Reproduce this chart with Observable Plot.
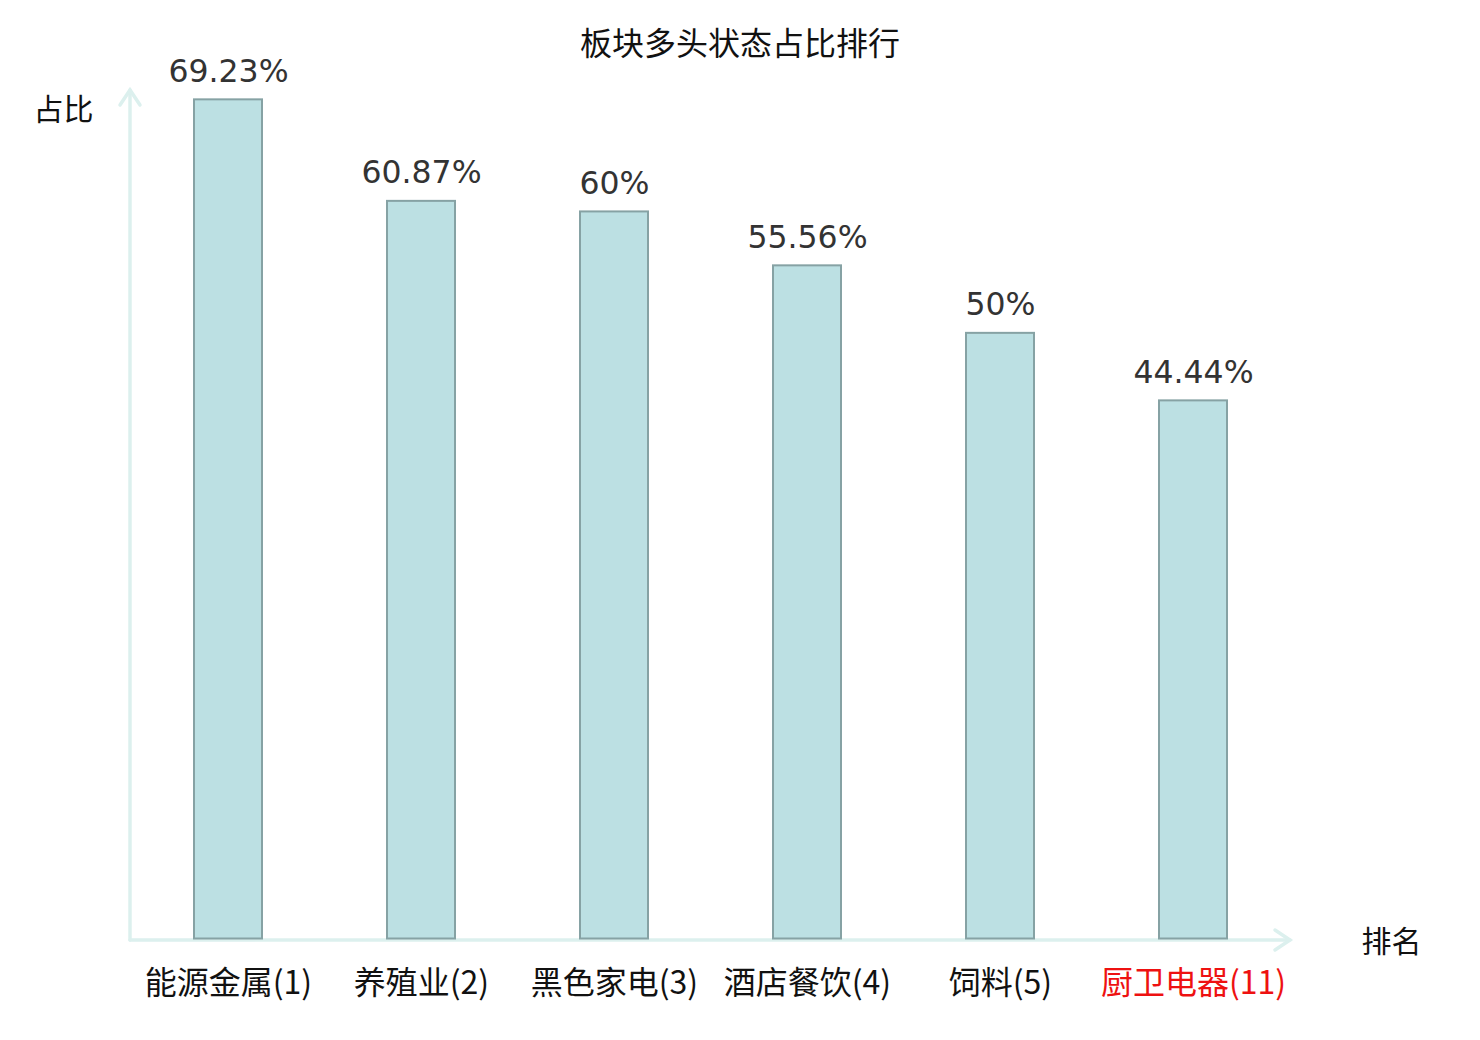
<!DOCTYPE html>
<html>
<head>
<meta charset="utf-8">
<script src="https://cdn.jsdelivr.net/npm/d3@7"></script>
<script src="https://cdn.jsdelivr.net/npm/@observablehq/plot@0.6"></script>
<style>
  html, body { margin: 0; padding: 0; background: #fff; }
  #wrap { width: 1480px; position: relative; }
  #title { position: absolute; left: 0; top: 0; width: 1480px; height: 60px; line-height: 82px; text-align: center; font-family: "Noto Sans CJK SC", sans-serif; font-size: 32px; color: #111; }
  svg { display: block; }
</style>
</head>
<body>
<div id="wrap">
  <div id="chart"></div>
  <div id="title">板块多头状态占比排行</div>
</div>
<script>
const categories = ["能源金属(1)", "养殖业(2)", "黑色家电(3)", "酒店餐饮(4)", "饲料(5)", "厨卫电器(11)"];
const values = [69.23, 60.87, 60, 55.56, 50, 44.44];
const valueLabels = ["69.23%", "60.87%", "60%", "55.56%", "50%", "44.44%"];
const highlight = [false, false, false, false, false, true];

const data = categories.map((c, i) => ({ cat: c, v: values[i], label: valueLabels[i], hi: highlight[i] }));

const axisColor = "#dcf0ee";

const plot = Plot.plot({
  width: 1480,
  height: 1040,
  marginLeft: 130,
  marginRight: 190,
  marginTop: 90,
  marginBottom: 100,
  x: { domain: categories, paddingInner: 0.648, paddingOuter: 0.324, axis: null },
  y: { domain: [0, 70], axis: null },
  marks: [
    Plot.barY(data, { x: "cat", y: "v", fill: "#bce0e3", stroke: "#86a2a4", strokeWidth: 2, insetBottom: 1.5 }),
    Plot.text(data, { x: "cat", y: "v", text: "label", dy: -28, lineAnchor: "middle", fill: "#333", fontSize: 31.5, fontFamily: "DejaVu Sans" }),
    Plot.text(data, { x: "cat", text: "cat", frameAnchor: "bottom", dy: 43, lineAnchor: "middle", fill: d => d.hi ? "#ee1111" : "#111", fontSize: 32, fontFamily: "Noto Sans CJK SC" }),
    Plot.text(["占比"], { frameAnchor: "top-left", dx: -67, dy: 20, textAnchor: "middle", lineAnchor: "middle", fill: "#111", fontSize: 30, fontFamily: "Noto Sans CJK SC" }),
    Plot.text(["排名"], { frameAnchor: "bottom-right", dx: 101, dy: 2, textAnchor: "middle", lineAnchor: "middle", fill: "#111", fontSize: 30, fontFamily: "Noto Sans CJK SC" })
  ]
});

// axis lines with arrowheads, positioned from the plot's own scales
const xs = plot.scale("x");
const ys = plot.scale("y");
const x0 = xs.range[0], x1 = xs.range[1];
const y0 = ys.range[0], y1 = ys.range[1];
const svg = d3.select(plot);
const g = svg.insert("g", ":first-child").attr("fill", "none").attr("stroke", axisColor).attr("stroke-width", 3.5).attr("stroke-linecap", "round");
g.append("line").attr("x1", x0).attr("y1", y0).attr("x2", x0).attr("y2", y1);
g.append("line").attr("x1", x0).attr("y1", y0).attr("x2", x1).attr("y2", y0);
g.append("path").attr("d", `M${x0 - 10},${y1 + 15}L${x0},${y1}L${x0 + 10},${y1 + 15}`);
g.append("path").attr("d", `M${x1 - 15},${y0 - 10}L${x1},${y0}L${x1 - 15},${y0 + 10}`);
document.getElementById("chart").appendChild(plot);
</script>
</body>
</html>
